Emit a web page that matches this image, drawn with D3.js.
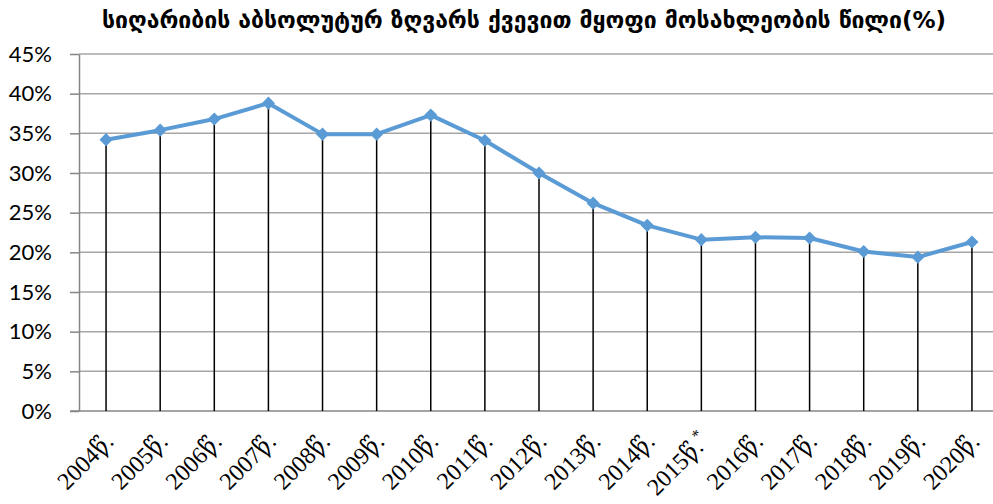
<!DOCTYPE html>
<html>
<head>
<meta charset="utf-8">
<script src="https://cdn.jsdelivr.net/npm/d3@7"></script>
<style>
  body { margin: 0; background: #fff; }
  svg { display: block; }
</style>
</head>
<body>
<div id="main"></div>
<script>
// years on the category axis
const years = ['2004', '2005', '2006', '2007', '2008', '2009', '2010', '2011', '2012',
               '2013', '2014', '2015', '2016', '2017', '2018', '2019', '2020'];
// share of population below absolute poverty line, in %
const shares = [34.2, 35.4, 36.8, 38.8, 34.9, 34.9, 37.3, 34.1, 30.0,
                26.2, 23.4, 21.6, 21.9, 21.8, 20.1, 19.4, 21.3];
// footnote mark next to 2015
const notes = { '2015': '*' };
const yTicks = [0, 5, 10, 15, 20, 25, 30, 35, 40, 45];
const title = 'სიღარიბის აბსოლუტურ ზღვარს ქვევით მყოფი მოსახლეობის წილი(%)';

const width = 993, height = 504;
const margin = { top: 54, right: -6, bottom: 93, left: 79 };

let svg = d3.select('#main')
    .append('svg')
    .attr('width', width)
    .attr('height', height);

const x = d3.scaleBand()
    .domain(years)
    .range([margin.left, width - margin.right]);

const y = d3.scaleLinear()
    .domain([0, 45])
    .range([height - margin.bottom, margin.top]);

// gridlines
svg.append('g')
    .selectAll('line')
    .data(yTicks.filter(d => d > 0))
    .enter()
    .append('line')
        .attr('x1', margin.left)
        .attr('x2', width)
        .attr('y1', d => y(d))
        .attr('y2', d => y(d))
        .attr('stroke', '#a6a6a6')
        .attr('stroke-width', 1.5);

// y axis
const yAxis = svg.append('g')
    .attr('transform', `translate(${margin.left},0)`)
    .call(d3.axisLeft(y).tickValues(yTicks).tickFormat(d => d + '%').tickSize(9).tickSizeOuter(0));
yAxis.select('.domain').attr('stroke', '#868686').attr('stroke-width', 1.5);
yAxis.selectAll('.tick line').attr('stroke', '#868686').attr('stroke-width', 1.5);
yAxis.selectAll('.tick text')
    .attr('x', -27)
    .attr('fill', '#000')
    .style('font-family', 'Lato, "Open Sans", sans-serif')
    .style('font-size', '22px');

// x baseline
svg.append('line')
    .attr('x1', margin.left - 9)
    .attr('x2', width)
    .attr('y1', y(0))
    .attr('y2', y(0))
    .attr('stroke', '#868686')
    .attr('stroke-width', 1.5);

const cx = d => x(d) + x.bandwidth() / 2;

// drop lines
svg.append('g')
    .selectAll('line')
    .data(years)
    .enter()
    .append('line')
        .attr('x1', d => cx(d))
        .attr('x2', d => cx(d))
        .attr('y1', (d, i) => y(shares[i]))
        .attr('y2', y(0))
        .attr('stroke', '#000')
        .attr('stroke-width', 1.5);

// the series line
const line = d3.line()
    .x((d, i) => cx(years[i]))
    .y(d => y(d));

svg.append('path')
    .datum(shares)
    .attr('d', line)
    .attr('fill', 'none')
    .attr('stroke', '#5b9bd5')
    .attr('stroke-width', 4)
    .attr('stroke-linejoin', 'round');

// diamond markers
svg.append('g')
    .selectAll('path')
    .data(shares)
    .enter()
    .append('path')
        .attr('d', d3.symbol().type(d3.symbolDiamond2).size(110))
        .attr('transform', (d, i) => `translate(${cx(years[i])},${y(d)})`)
        .attr('fill', '#5b9bd5');

// rotated category labels
const labels = svg.append('g')
    .selectAll('text')
    .data(years)
    .enter()
    .append('text')
        .attr('transform', d => `translate(${cx(d) + 9},${y(0) + 32}) rotate(-45)`)
        .attr('text-anchor', 'end')
        .style('font-family', '"Liberation Serif", "DejaVu Serif", serif')
        .style('font-size', '24px')
        .attr('fill', '#000');
labels.append('tspan').text(d => d + 'წ.');
labels.filter(d => notes[d])
    .append('tspan')
        .attr('dy', -10)
        .style('font-size', '16px')
        .text(d => notes[d]);

// title
svg.append('text')
    .attr('x', 524)
    .attr('y', 28)
    .attr('text-anchor', 'middle')
    .style('font-family', '"DejaVu Sans", sans-serif')
    .style('font-weight', 'bold')
    .style('font-size', '23px')
    .attr('fill', '#000')
    .text(title);
</script>
</body>
</html>
